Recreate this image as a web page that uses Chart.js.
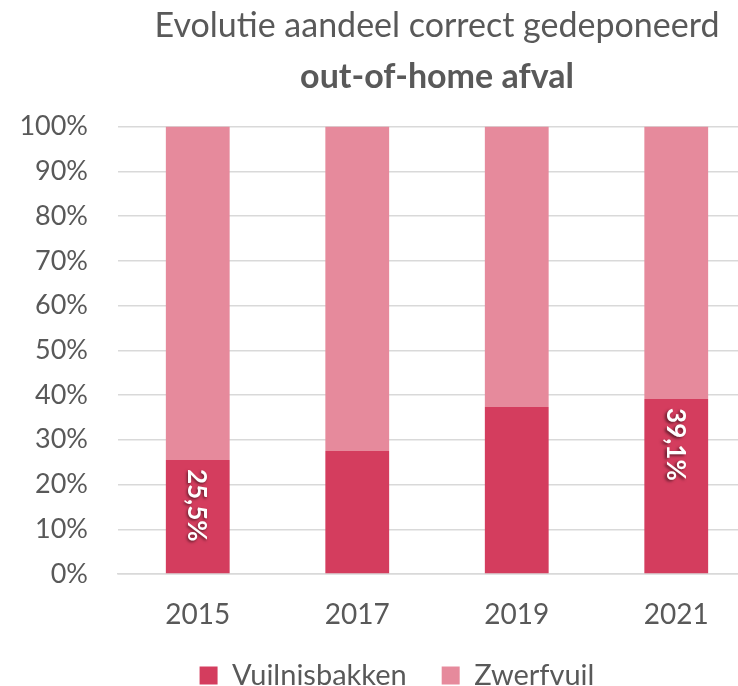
<!DOCTYPE html>
<html>
<head>
<meta charset="utf-8">
<script src="https://cdn.jsdelivr.net/npm/chart.js@4.4.0/dist/chart.umd.min.js"></script>
<style>
  html, body { margin: 0; padding: 0; background: #ffffff; overflow: hidden; }
  #wrap { width: 738px; height: 686px; overflow: hidden; position: relative; }
  canvas { display: block; }
</style>
</head>
<body>
<div id="wrap"><canvas id="c" width="794" height="700"></canvas></div>
<script>
const categories = ['2015', '2017', '2019', '2021'];
const vuilnisbakken = [25.5, 27.5, 37.3, 39.1];
const zwerfvuil = [74.5, 72.5, 62.7, 60.9];
const valueLabels = ['25,5%', null, null, '39,1%'];
const seriesNames = ['Vuilnisbakken', 'Zwerfvuil'];
const titleLine1 = 'Evolutie aandeel correct gedeponeerd';
const titleLine2 = 'out-of-home afval';

const FONT = 'Lato, "Open Sans", sans-serif';
const TEXT = '#595959';

const barLabelPlugin = {
  id: 'barLabels',
  afterDatasetsDraw(chart) {
    const meta = chart.getDatasetMeta(0);
    const ctx = chart.ctx;
    meta.data.forEach((bar, i) => {
      const txt = valueLabels[i];
      if (!txt) return;
      ctx.save();
      ctx.translate(bar.x, bar.y + 9);
      ctx.rotate(Math.PI / 2);
      ctx.font = 'bold 26px ' + FONT;
      ctx.fillStyle = '#ffffff';
      ctx.textAlign = 'left';
      ctx.textBaseline = 'middle';
      ctx.shadowColor = 'rgba(0,0,0,0.55)';
      ctx.shadowBlur = 3;
      ctx.shadowOffsetX = -1.5;
      ctx.shadowOffsetY = 1.5;
      ctx.fillText(txt, 0, 1);
      ctx.restore();
    });
  }
};

new Chart(document.getElementById('c'), {
  type: 'bar',
  data: {
    labels: categories,
    datasets: [
      { label: seriesNames[0], data: vuilnisbakken, backgroundColor: '#D43D5E', borderWidth: 0 },
      { label: seriesNames[1], data: zwerfvuil, backgroundColor: '#E68A9C', borderWidth: 0 }
    ]
  },
  options: {
    responsive: false,
    animation: false,
    devicePixelRatio: 1,
    layout: { padding: 0 },
    datasets: { bar: { categoryPercentage: 0.4, barPercentage: 1.0 } },
    scales: {
      x: {
        stacked: true,
        afterFit(scale) { scale.height = 52; },
        grid: { display: false, drawTicks: false },
        border: { display: true, color: '#D9D9D9', width: 1.5 },
        ticks: { color: TEXT, font: { family: FONT, size: 28 }, padding: 24 }
      },
      y: {
        stacked: true,
        min: 0, max: 100,
        afterFit(scale) { scale.width = 118; },
        grid: { color: '#D9D9D9', lineWidth: 1.5, drawTicks: false },
        border: { display: false },
        ticks: { stepSize: 10, color: TEXT, font: { family: FONT, size: 27 }, padding: 30,
                 callback: v => v + '%' }
      },
      yRight: {
        type: 'linear',
        position: 'right',
        min: 0, max: 100,
        afterFit(scale) { scale.width = 38; },
        grid: { drawOnChartArea: false, drawTicks: false },
        border: { display: false },
        ticks: { display: false }
      }
    },
    plugins: {
      tooltip: { enabled: false },
      title: {
        display: true, text: titleLine1, fullSize: false, color: TEXT,
        font: { family: FONT, size: 34, weight: 'normal' },
        padding: { top: 6, bottom: 10 }
      },
      subtitle: {
        display: true, text: titleLine2, fullSize: false, color: TEXT,
        font: { family: FONT, size: 34, weight: 'bold' },
        padding: { top: 0, bottom: 29 }
      },
      legend: {
        position: 'bottom',
        labels: {
          color: TEXT, font: { family: FONT, size: 29 },
          boxWidth: 18, boxHeight: 18, padding: 35
        }
      }
    }
  },
  plugins: [barLabelPlugin]
});
</script>
</body>
</html>
